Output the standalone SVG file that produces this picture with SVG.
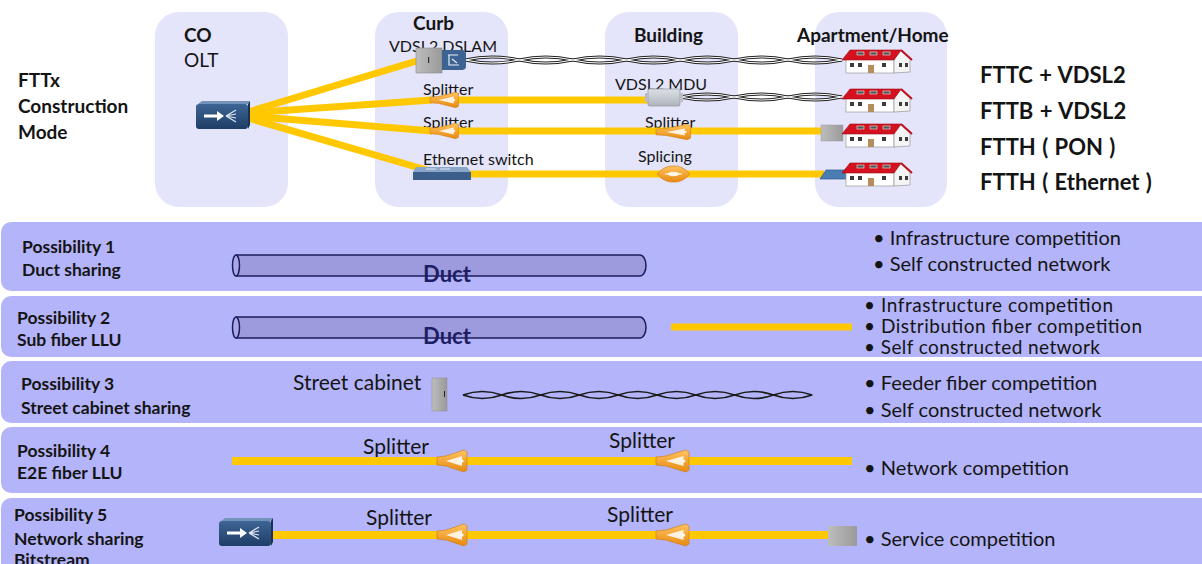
<svg xmlns="http://www.w3.org/2000/svg" xmlns:xlink="http://www.w3.org/1999/xlink" width="1202" height="564" viewBox="0 0 1202 564">
  <style>
    .t { font-family: Lato, "Liberation Sans", sans-serif; fill: #141414; }
    .b { font-weight: 700; }
    .hd { font-size: 19px; font-weight: 700; }
    .sm { font-size: 16px; }
    .big { font-size: 22px; font-weight: 700; word-spacing: 1px; }
    .lab { font-size: 17.5px; font-weight: 700; }
    .bul { font-size: 20px; }
    .bul2 { font-size: 19px; }
    .spl { font-size: 21px; }
    .duct-t { font-size: 22px; font-weight: 700; fill: #1e1e62; }
    .col { fill: #e4e4fa; }
    .row { fill: #b4b4fa; }
    .fiber { stroke: #ffc800; stroke-width: 7; fill: none; }
    .pair-o { stroke: #222; stroke-width: 3; fill: none; }
    .pair-i { stroke: #fff; stroke-width: 1.1; fill: none; }
    .pair { stroke: #1a1a1a; stroke-width: 1.6; fill: none; }
    .duct { fill: #9d9ade; stroke: #1c1c5c; stroke-width: 1.5; }
    .duct-end { fill: #aaa7e8; stroke: #1c1c5c; stroke-width: 1.5; }
  </style>
  <defs>
    <linearGradient id="orange" x1="0" y1="0" x2="0" y2="1">
      <stop offset="0" stop-color="#ffc461"/>
      <stop offset="1" stop-color="#e8890f"/>
    </linearGradient>
    <linearGradient id="oltFront" x1="0" y1="0" x2="0" y2="1">
      <stop offset="0" stop-color="#3d6595"/>
      <stop offset="1" stop-color="#1f3d66"/>
    </linearGradient>
    <linearGradient id="grey" x1="0" y1="0" x2="1" y2="0">
      <stop offset="0" stop-color="#bdbdbd"/>
      <stop offset="1" stop-color="#9a9a9a"/>
    </linearGradient>
    <linearGradient id="mdu" x1="0" y1="0" x2="0" y2="1">
      <stop offset="0" stop-color="#dde0e6"/>
      <stop offset="1" stop-color="#aeb3bc"/>
    </linearGradient>

    <!-- OLT chassis, 54 x 28 -->
    <g id="olt">
      <rect x="0" y="3" width="52" height="25" rx="3" fill="url(#oltFront)"/>
      <path d="M2,3 L6,0 L54,0 L52,3 Z" fill="#7393bb"/>
      <path d="M52,3 L54,0 L54,24 L52,28 Z" fill="#1a3256"/>
      <rect x="8" y="13.5" width="14" height="3" fill="#fff"/>
      <path d="M21,10 L28,15 L21,20 Z" fill="#fff"/>
      <path d="M30,15 L40,9 M30,15 L40,13 M30,15 L40,17 M30,15 L40,21" stroke="#dfe6ef" stroke-width="1.2" fill="none"/>
    </g>

    <!-- optical splitter, 30 x 22 centred on y = 0 -->
    <g id="splitter">
      <path d="M0,-4 L9,-5 L27,-11 L30,-9 L30,9 L27,11 L9,5 L0,4 Z" fill="url(#orange)" stroke="#cf7b0c" stroke-width="0.6"/>
      <path d="M9,0 L25,-5 L25,5 Z" fill="#fff" opacity="0.85"/>
      <circle cx="25" cy="0" r="1.6" fill="#fff"/>
    </g>

    <!-- fibre splice closure, 33 x 17 centred on y = 0 -->
    <g id="splice">
      <path d="M0,0 Q8,-9 16.5,-8 Q25,-9 33,0 Q25,9 16.5,8 Q8,9 0,0 Z" fill="url(#orange)" stroke="#cf7b0c" stroke-width="0.6"/>
      <ellipse cx="16.5" cy="0" rx="6" ry="2.2" fill="#fff" opacity="0.85"/>
      <path d="M8,0 H25" stroke="#fff" stroke-width="1"/>
    </g>

    <!-- house, 70 x 26 -->
    <g id="house">
      <rect x="4" y="11" width="48" height="14" fill="#fff" stroke="#8a8a8a" stroke-width="0.6"/>
      <path d="M52,11 L59,3 L68,11 L68,24 L52,25 Z" fill="#f4f4f4" stroke="#8a8a8a" stroke-width="0.6"/>
      <path d="M0,12 L8,2 L59,2 L52,12 Z" fill="#d3111f" stroke="#a00a14" stroke-width="0.6"/>
      <path d="M59,2 L70,12" stroke="#c0101c" stroke-width="2"/>
      <rect x="15" y="4" width="7" height="3" fill="#555" stroke="#eee" stroke-width="0.6"/>
      <rect x="28" y="4" width="7" height="3" fill="#555" stroke="#eee" stroke-width="0.6"/>
      <rect x="41" y="4" width="7" height="3" fill="#555" stroke="#eee" stroke-width="0.6"/>
      <rect x="8" y="15" width="4" height="4" fill="#3c3c3c"/>
      <rect x="16" y="15" width="4" height="4" fill="#3c3c3c"/>
      <rect x="26" y="17" width="6" height="8" fill="#b68d5f"/>
      <rect x="40" y="15" width="4" height="4" fill="#3c3c3c"/>
      <rect x="57" y="15" width="3" height="4" fill="#3c3c3c"/>
      <rect x="63" y="15" width="3" height="4" fill="#3c3c3c"/>
    </g>
  </defs>

  <rect width="1202" height="564" fill="#fff"/>

  <!-- ===== Top: FTTx construction modes ===== -->
  <g id="columns">
    <rect class="col" x="155" y="12" width="133" height="195" rx="24"/>
    <rect class="col" x="375" y="12" width="133" height="195" rx="24"/>
    <rect class="col" x="605" y="12" width="133" height="195" rx="24"/>
    <rect class="col" x="815" y="12" width="132" height="195" rx="24"/>
  </g>

  <g id="title" class="t">
    <text class="hd" x="18" y="87">FTTx</text>
    <text class="hd" x="18" y="113">Construction</text>
    <text class="hd" x="18" y="139">Mode</text>
  </g>

  <g id="column-labels" class="t">
    <text class="hd" x="184" y="42">CO</text>
    <text x="184" y="67" style="font-size:19px">OLT</text>
    <text class="hd" x="413" y="30">Curb</text>
    <text class="hd" x="634" y="42">Building</text>
    <text class="hd" x="797" y="42">Apartment/Home</text>
    <text class="sm" x="389" y="52">VDSL2 DSLAM</text>
    <text class="sm" x="423" y="95">Splitter</text>
    <text class="sm" x="423" y="128">Splitter</text>
    <text class="sm" x="423" y="165">Ethernet switch</text>
    <text class="sm" x="615" y="90">VDSL2 MDU</text>
    <text class="sm" x="645" y="128">Splitter</text>
    <text class="sm" x="638" y="162">Splicing</text>
  </g>

  <g id="mode-names" class="t">
    <text class="big" x="980" y="83">FTTC + VDSL2</text>
    <text class="big" x="980" y="119">FTTB + VDSL2</text>
    <text class="big" x="980" y="155">FTTH ( PON )</text>
    <text class="big" x="980" y="190">FTTH ( Ethernet )</text>
  </g>

  <g id="connectors-top">
    <!-- feeder fibres fanning out of the OLT -->
    <path class="fiber" d="M248,112 L420,60"/>
    <path class="fiber" d="M248,113 L432,100"/>
    <path class="fiber" d="M248,116 L432,131"/>
    <path class="fiber" d="M248,118 L430,171"/>
    <!-- distribution fibres -->
    <path class="fiber" d="M455,100 H652"/>
    <path class="fiber" d="M455,131 H824"/>
    <path class="fiber" d="M468,174 H824"/>
    <!-- copper twisted pairs -->
    <path class="pair-o" d="M465,60 Q492,54 518.9,60 T572.7,60 T626.6,60 T680.4,60 T734.3,60 T788.1,60 T842,60"/>
    <path class="pair-o" d="M465,60 Q492,66 518.9,60 T572.7,60 T626.6,60 T680.4,60 T734.3,60 T788.1,60 T842,60"/>
    <path class="pair-i" d="M465,60 Q492,54 518.9,60 T572.7,60 T626.6,60 T680.4,60 T734.3,60 T788.1,60 T842,60"/>
    <path class="pair-i" d="M465,60 Q492,66 518.9,60 T572.7,60 T626.6,60 T680.4,60 T734.3,60 T788.1,60 T842,60"/>
    <path class="pair-o" d="M680,97 Q707,91 734,97 T788,97 T842,97"/>
    <path class="pair-o" d="M680,97 Q707,103 734,97 T788,97 T842,97"/>
    <path class="pair-i" d="M680,97 Q707,91 734,97 T788,97 T842,97"/>
    <path class="pair-i" d="M680,97 Q707,103 734,97 T788,97 T842,97"/>
  </g>

  <g id="olt-co">
    <use href="#olt" transform="translate(196,101)"/>
  </g>
  <g id="dslam">
    <rect x="416" y="48" width="26" height="25" fill="url(#grey)" stroke="#8a8a8a" stroke-width="0.6"/>
    <rect x="428" y="57" width="1.2" height="6" fill="#333"/>
    <path d="M442,50 H462 Q466,50 466,54 V66 Q466,70 462,70 H442 Z" fill="#3d6392"/>
    <path d="M448,55 H458 M449,55 V65 H459 M452,59 L457,63" stroke="#e8eef6" stroke-width="1.2" fill="none"/>
  </g>
  <g id="curb-splitter-1"><use href="#splitter" transform="translate(430,100) scale(0.95,0.7)"/></g>
  <g id="curb-splitter-2"><use href="#splitter" transform="translate(430,131) scale(0.95,0.7)"/></g>
  <g id="ethernet-switch">
    <path d="M416,167 H467 L471,172 H413 Z" fill="#8aa6c8"/>
    <rect x="413" y="172" width="58" height="8" fill="#3b5e8a"/>
    <path d="M426,169 h10 M440,169 h10" stroke="#dfe7f1" stroke-width="1"/>
  </g>
  <g id="vdsl2-mdu">
    <rect x="648" y="89" width="32" height="17" rx="1.5" fill="url(#mdu)" stroke="#8f96a2" stroke-width="0.7"/>
    <rect x="645" y="93" width="3" height="9" fill="#b8bcc4"/>
    <rect x="680" y="93" width="3" height="9" fill="#b8bcc4"/>
  </g>
  <g id="building-splitter"><use href="#splitter" transform="translate(656,132) scale(1.15,0.7)"/></g>
  <g id="building-splice"><use href="#splice" transform="translate(657,174)"/></g>
  <g id="ont-pon">
    <rect x="821" y="125" width="22" height="16" fill="url(#grey)" stroke="#9a9a9a" stroke-width="0.5"/>
  </g>
  <g id="ont-ethernet">
    <path d="M820,179 L826,170 H853 L847,179 Z" fill="#4b7db2" stroke="#2d5a88" stroke-width="0.7"/>
  </g>
  <g id="homes">
    <use href="#house" transform="translate(842,48)"/>
    <use href="#house" transform="translate(842,87)"/>
    <use href="#house" transform="translate(842,122)"/>
    <use href="#house" transform="translate(842,161)"/>
  </g>

  <!-- ===== Bottom: sharing possibilities ===== -->
  <g id="rows">
    <rect class="row" x="1" y="222" width="1215" height="69" rx="10"/>
    <rect class="row" x="1" y="296" width="1215" height="61" rx="10"/>
    <rect class="row" x="1" y="361" width="1215" height="62" rx="10"/>
    <rect class="row" x="1" y="427" width="1215" height="66" rx="10"/>
    <rect class="row" x="1" y="498" width="1215" height="80" rx="10"/>
  </g>

  <g id="row-labels" class="t">
    <text class="lab" x="22" y="253">Possibility 1</text>
    <text class="lab" x="22" y="276">Duct sharing</text>
    <text class="lab" x="17" y="324">Possibility 2</text>
    <text class="lab" x="17" y="346">Sub fiber LLU</text>
    <text class="lab" x="21" y="390">Possibility 3</text>
    <text class="lab" x="21" y="414">Street cabinet sharing</text>
    <text class="lab" x="17" y="457">Possibility 4</text>
    <text class="lab" x="17" y="479">E2E fiber LLU</text>
    <text class="lab" x="14" y="521">Possibility 5</text>
    <text class="lab" x="14" y="545">Network sharing</text>
    <text class="lab" x="14" y="566">Bitstream</text>
  </g>

  <g id="benefits" class="t">
    <text class="bul" x="873" y="245">• Infrastructure competition</text>
    <text class="bul" x="873" y="271">• Self constructed network</text>
    <text class="bul2" x="864" y="312" textLength="249" lengthAdjust="spacing">• Infrastructure competition</text>
    <text class="bul2" x="864" y="333" textLength="278" lengthAdjust="spacing">• Distribution fiber competition</text>
    <text class="bul2" x="864" y="354" textLength="236" lengthAdjust="spacing">• Self constructed network</text>
    <text class="bul" x="864" y="390">• Feeder fiber competition</text>
    <text class="bul" x="864" y="417">• Self constructed network</text>
    <text class="bul" x="864" y="475">• Network competition</text>
    <text class="bul" x="864" y="546">• Service competition</text>
  </g>

  <g id="duct-1">
    <path class="duct" d="M236,255 H640 A6,10.5 0 0 1 640,276 H236"/>
    <ellipse class="duct-end" cx="236" cy="265.5" rx="3.5" ry="10.5"/>
    <text class="t duct-t" x="447" y="282" text-anchor="middle">Duct</text>
  </g>
  <g id="duct-2">
    <path class="duct" d="M236,317 H640 A6,10.5 0 0 1 640,338 H236"/>
    <ellipse class="duct-end" cx="236" cy="327.5" rx="3.5" ry="10.5"/>
    <text class="t duct-t" x="447" y="344" text-anchor="middle">Duct</text>
  </g>

  <g id="row-texts" class="t">
    <text class="spl" x="293" y="390">Street cabinet</text>
    <text class="spl" x="363" y="454">Splitter</text>
    <text class="spl" x="609" y="448">Splitter</text>
    <text class="spl" x="366" y="525">Splitter</text>
    <text class="spl" x="607" y="522">Splitter</text>
  </g>

  <g id="connectors-bottom">
    <path class="fiber" d="M671,327 H852"/>
    <path class="pair" d="M463,395 Q482.4,388 501.8,395 T540.6,395 T579.4,395 T618.2,395 T657,395 T695.8,395 T734.6,395 T773.4,395 T812.2,395"/>
    <path class="pair" d="M463,395 Q482.4,402 501.8,395 T540.6,395 T579.4,395 T618.2,395 T657,395 T695.8,395 T734.6,395 T773.4,395 T812.2,395"/>
    <path class="fiber" style="stroke-width:8" d="M232,461 H852"/>
    <path class="fiber" style="stroke-width:8" d="M270,535 H830"/>
  </g>

  <g id="street-cabinet">
    <rect x="432" y="378" width="15" height="33" fill="url(#grey)" stroke="#8a8a8a" stroke-width="0.5"/>
    <rect x="444" y="391" width="1" height="6" fill="#222"/>
  </g>
  <g id="p4-splitter-1"><use href="#splitter" transform="translate(437,461)"/></g>
  <g id="p4-splitter-2"><use href="#splitter" transform="translate(656,461) scale(1.1,1)"/></g>
  <g id="p5-olt"><use href="#olt" transform="translate(219,518)"/></g>
  <g id="p5-splitter-1"><use href="#splitter" transform="translate(437,535)"/></g>
  <g id="p5-splitter-2"><use href="#splitter" transform="translate(656,535) scale(1.1,1)"/></g>
  <g id="p5-ont">
    <rect x="828" y="526" width="29" height="20" fill="url(#grey)"/>
  </g>
</svg>
